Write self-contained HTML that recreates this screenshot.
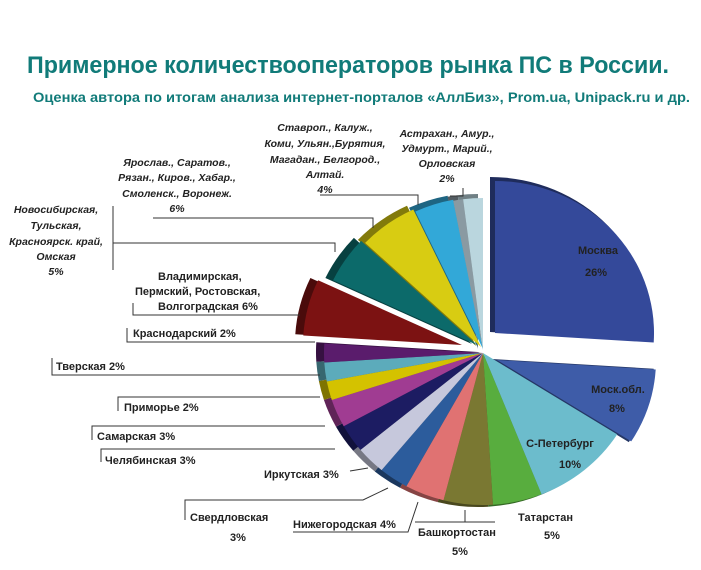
<!DOCTYPE html>
<html><head><meta charset="utf-8"><style>
html,body{margin:0;padding:0;background:#fff;}
svg{display:block;}
text{font-family:"Liberation Sans","DejaVu Sans",sans-serif;font-weight:bold;fill:#222;}
.it{font-style:italic;font-size:10.5px;}
.b{font-size:11px;}
</style></head><body>
<svg id="s" width="701" height="570" viewBox="0 0 701 570" xmlns="http://www.w3.org/2000/svg">
<text x="27" y="73" font-size="24" textLength="642" lengthAdjust="spacingAndGlyphs" style="fill:#117b79">Примерное количествооператоров рынка ПС в России.</text>
<text x="33" y="102" font-size="14" textLength="657" lengthAdjust="spacingAndGlyphs" style="fill:#117b79">Оценка автора по итогам анализа интернет-порталов «АллБиз», Prom.ua, Unipack.ru и др.</text>
<g id="pie"></g>
<g stroke="#333" stroke-width="1" fill="none">
<polyline points="113,206 113,270"/><polyline points="113,243 335,243 335,252"/>
<polyline points="153,218 373,218 373,228"/>
<polyline points="320,195 418,195 418,205"/>
<polyline points="450,196 463,196 463,188"/>
<polyline points="133,303 133,315 300,315"/>
<polyline points="127,328 127,342 315,342"/>
<polyline points="52,358 52,375 320,375"/>
<polyline points="118,411 118,397 320,397"/>
<polyline points="92,440 92,426 325,426"/>
<polyline points="101,462 101,449 335,449"/>
<polyline points="350,471 368,468"/>
<polyline points="185,520 185,500 363,500 388,488"/>
<polyline points="293,532 408,532 418,502"/>
<polyline points="415,522 495,522"/><polyline points="465,510 465,522"/>
</g>
<g text-anchor="middle">
<text x="325" y="131" class="it">Ставроп., Калуж.,</text>
<text x="325" y="147" class="it">Коми, Ульян.,Бурятия,</text>
<text x="325" y="163" class="it">Магадан., Белгород.,</text>
<text x="325" y="178" class="it">Алтай.</text>
<text x="325" y="193" class="it">4%</text>
<text x="447" y="137" class="it">Астрахан., Амур.,</text>
<text x="447" y="152" class="it">Удмурт., Марий.,</text>
<text x="447" y="167" class="it">Орловская</text>
<text x="447" y="182" class="it">2%</text>
<text x="177" y="166" class="it">Ярослав., Саратов.,</text>
<text x="177" y="181" class="it">Рязан., Киров., Хабар.,</text>
<text x="177" y="197" class="it">Смоленск., Воронеж.</text>
<text x="177" y="212" class="it">6%</text>
<text x="56" y="213" class="it">Новосибирская,</text>
<text x="56" y="229" class="it">Тульская,</text>
<text x="56" y="245" class="it">Красноярск. край,</text>
<text x="56" y="260" class="it">Омская</text>
<text x="56" y="275" class="it">5%</text>
</g>
<g>
<text x="158" y="280" class="b">Владимирская,</text>
<text x="135" y="295" class="b">Пермский, Ростовская,</text>
<text x="158" y="310" class="b">Волгоградская 6%</text>
<text x="133" y="337" class="b">Краснодарский 2%</text>
<text x="56" y="370" class="b">Тверская 2%</text>
<text x="124" y="411" class="b">Приморье 2%</text>
<text x="97" y="440" class="b">Самарская 3%</text>
<text x="105" y="464" class="b">Челябинская 3%</text>
<text x="264" y="478" class="b">Иркутская 3%</text>
<text x="190" y="521" class="b">Свердловская</text>
<text x="230" y="541" class="b">3%</text>
<text x="293" y="528" class="b">Нижегородская 4%</text>
<text x="418" y="536" class="b">Башкортостан</text>
<text x="452" y="555" class="b">5%</text>
<text x="518" y="521" class="b">Татарстан</text>
<text x="544" y="539" class="b">5%</text>
<text x="598" y="254" text-anchor="middle" class="b">Москва</text>
<text x="596" y="276" text-anchor="middle" class="b">26%</text>
<text x="618" y="393" text-anchor="middle" class="b">Моск.обл.</text>
<text x="617" y="412" text-anchor="middle" class="b">8%</text>
<text x="560" y="447" text-anchor="middle" class="b">С-Петербург</text>
<text x="570" y="468" text-anchor="middle" class="b">10%</text>
</g>
</svg>
<script>
(function(){
var data=[[26,"#34499a",12,-20],[8,"#3e5ca8",14,7],[10,"#6cbccc",0,0],[5,"#58ad3e",0,0],[5,"#7a7832",0,0],[4,"#e07272",0,0],[3,"#2c5c9c",0,0],[3,"#c6c8dc",0,0],[3,"#1c1c62",0,0],[3,"#a03c92",0,0],[2,"#d4c200",0,0],[2,"#5cabbb",0,0],[2,"#5a1c6c",0,0],[6,"#7c1212",-21,-8],[5,"#0c6a6a",-6,-8],[6,"#d8cc12",-2,-6],[4,"#32a8d8",0,-4],[1,"#8a9aa2",0,-3],[2,"#bad6de",0,-3]];
var cx=483,cy=353,rx=165,ry=158,g=document.getElementById("pie");
var a=-90,html="",top="";
function p(x,y){return x.toFixed(1)+","+y.toFixed(1);}
function dk(c,f){var n=parseInt(c.slice(1),16),r=(n>>16)*f,gg=((n>>8)&255)*f,b=(n&255)*f;return "rgb("+[r,gg,b].map(Math.round).join(",")+")";}
data.forEach(function(d){
var a0=a,a1=a+d[0]*3.6;a=a1;
var ox=cx+d[2],oy=cy+d[3];
function wedge(x0,y0,r1,r2){var s=a0*Math.PI/180,e=a1*Math.PI/180;
return "M"+p(x0,y0)+"L"+p(x0+r1*Math.cos(s),y0+r2*Math.sin(s))+"A"+r1+","+r2+" 0 "+((a1-a0)>180?1:0)+" 1 "+p(x0+r1*Math.cos(e),y0+r2*Math.sin(e))+"Z";}
html+='<path d="'+wedge(ox-5,oy-1,rx-3,ry-3)+'" fill="'+dk(d[1],0.6)+'"/>';
top+='<path d="'+wedge(ox,oy,rx-6,ry-6)+'" fill="'+d[1]+'"/>';
});
g.innerHTML=html+top;
})();
</script>
</body></html>
